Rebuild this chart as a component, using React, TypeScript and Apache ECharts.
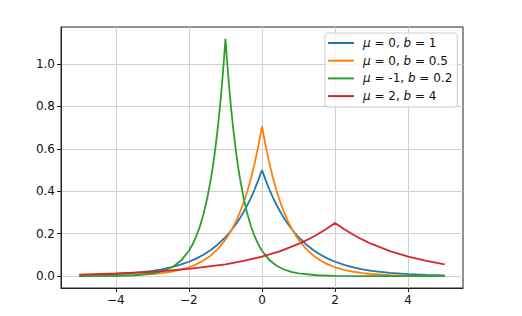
import React, { useEffect, useRef } from "react";
import * as echarts from "echarts";

const seriesNames = ["μ = 0, b = 1", "μ = 0, b = 0.5", "μ = -1, b = 0.2", "μ = 2, b = 4"];
const seriesColors = ["#1f77b4", "#ff7f0e", "#2ca02c", "#d62728"];

const xBlue = [-5, -4.5, -4, -3.5, -3, -2.75, -2.5, -2.25, -2, -1.8, -1.6, -1.4, -1.2, -1, -0.9, -0.8, -0.7, -0.6, -0.5, -0.4, -0.3, -0.2, -0.1, 0,
  0.1, 0.2, 0.3, 0.4, 0.5, 0.6, 0.7, 0.8, 0.9, 1, 1.2, 1.4, 1.6, 1.8, 2, 2.25, 2.5, 2.75, 3, 3.5, 4, 4.5, 5];
const yBlue = [0.00337, 0.00555, 0.00916, 0.0151, 0.0249, 0.032, 0.041, 0.0527, 0.0677, 0.0826, 0.1009, 0.1233, 0.1506, 0.1839, 0.2033, 0.2247, 0.2483, 0.2744, 0.3033, 0.3352, 0.3704, 0.4094, 0.4524, 0.5,
  0.4524, 0.4094, 0.3704, 0.3352, 0.3033, 0.2744, 0.2483, 0.2247, 0.2033, 0.1839, 0.1506, 0.1233, 0.1009, 0.0826, 0.0677, 0.0527, 0.041, 0.032, 0.0249, 0.0151, 0.00916, 0.00555, 0.00337];

const xOrange = [-5, -4.5, -4, -3.5, -3, -2.75, -2.5, -2.25, -2, -1.8, -1.6, -1.4, -1.2, -1, -0.9, -0.8, -0.7, -0.6, -0.5, -0.4, -0.3, -0.2, -0.1, 0,
  0.1, 0.2, 0.3, 0.4, 0.5, 0.6, 0.7, 0.8, 0.9, 1, 1.2, 1.4, 1.6, 1.8, 2, 2.25, 2.5, 2.75, 3, 3.5, 4, 4.5, 5];
const yOrange = [0.0006, 0.00122, 0.00247, 0.00501, 0.01016, 0.01447, 0.0206, 0.0293, 0.0418, 0.0555, 0.0736, 0.0976, 0.1296, 0.1719, 0.198, 0.2281, 0.2628, 0.3027, 0.3487, 0.4016, 0.4626, 0.5329, 0.6139, 0.7071,
  0.6139, 0.5329, 0.4626, 0.4016, 0.3487, 0.3027, 0.2628, 0.2281, 0.198, 0.1719, 0.1296, 0.0976, 0.0736, 0.0555, 0.0418, 0.0293, 0.0206, 0.01447, 0.01016, 0.00501, 0.00247, 0.00122, 0.0006];

const xGreen = [-5, -4.5, -4, -3.5, -3, -2.8, -2.6, -2.4, -2.2, -2, -1.9, -1.8, -1.7, -1.6, -1.5, -1.4, -1.35, -1.3, -1.25, -1.2, -1.15, -1.1, -1.05, -1,
  -0.95, -0.9, -0.85, -0.8, -0.75, -0.7, -0.65, -0.6, -0.5, -0.4, -0.3, -0.2, -0.1, 0, 0.2, 0.4, 0.6, 0.8, 1, 1.5, 2, 3, 4, 5];
const yGreen = [0.000146, 0.000446, 0.00136, 0.00417, 0.01277, 0.02, 0.0312, 0.0489, 0.0764, 0.1195, 0.1494, 0.1869, 0.2337, 0.2923, 0.3655, 0.4571, 0.5112, 0.5716, 0.6392, 0.7149, 0.7994, 0.894, 0.9997, 1.118,
  0.9997, 0.894, 0.7994, 0.7149, 0.6392, 0.5716, 0.5112, 0.4571, 0.3655, 0.2923, 0.2337, 0.1869, 0.1494, 0.1195, 0.0764, 0.0489, 0.0312, 0.02, 0.01277, 0.00417, 0.00136, 0.000146, 0.0000156, 0.0000017];

const xRed = [-5, -4, -3, -2, -1, -0.5, 0, 0.5, 1, 1.25, 1.5, 1.75, 2, 2.25, 2.5, 2.75, 3, 3.5, 4, 4.5, 5];
const yRed = [0.00755, 0.01245, 0.0205, 0.0338, 0.0558, 0.0716, 0.092, 0.1181, 0.1516, 0.1718, 0.1947, 0.2206, 0.25, 0.2206, 0.1947, 0.1718, 0.1516, 0.1181, 0.092, 0.0716, 0.0558];

const xTicks = [-4, -2, 0, 2, 4];
const yTicks = [0, 0.2, 0.4, 0.6, 0.8, 1.0];

const FONT = "DejaVu Sans";

function zip(xs: number[], ys: number[]) {
  return xs.map((x, i) => [x, ys[i]]);
}

export default function App() {
  const ref = useRef<HTMLDivElement>(null);
  useEffect(() => {
    if (!ref.current) return;
    const chart = echarts.init(ref.current, null, { renderer: "svg" });
    const xs = [xBlue, xOrange, xGreen, xRed];
    const ys = [yBlue, yOrange, yGreen, yRed];
    chart.setOption({
      animation: false,
      backgroundColor: "#ffffff",
      grid: {
        left: 61,
        right: 59,
        top: 27,
        bottom: 28,
        show: true,
        borderColor: "#222",
        borderWidth: 1,
        backgroundColor: "transparent",
      },
      legend: {
        orient: "vertical",
        left: 325,
        top: 33,
        icon: "rect",
        itemWidth: 26,
        itemHeight: 2,
        itemGap: 3.7,
        padding: [3, 5, 4, 3],
        backgroundColor: "rgba(255,255,255,0.8)",
        borderColor: "#cccccc",
        borderWidth: 1,
        borderRadius: 3,
        data: seriesNames,
        formatter: (name: string) =>
          name.replace("μ", "{i|μ}").replace("b =", "{i|b} ="),
        textStyle: {
          fontFamily: FONT,
          fontSize: 12,
          color: "#111",
          lineHeight: 14,
          padding: [0, 0, 0, 4],
          rich: {
            i: { fontFamily: FONT, fontSize: 12, fontStyle: "italic", color: "#111", lineHeight: 14 },
          },
        },
      },
      xAxis: {
        type: "value",
        min: -5.5,
        max: 5.5,
        splitNumber: 5,
        axisLine: { onZero: false, lineStyle: { color: "#222", width: 1 } },
        axisTick: { show: true, inside: false, length: 4, customValues: xTicks, lineStyle: { color: "#222" } },
        axisLabel: {
          customValues: xTicks,
          margin: 6,
          fontFamily: FONT,
          fontSize: 12,
          color: "#111",
          formatter: (v: number) => (v < 0 ? "\u2212" + Math.abs(v) : String(v)),
        },
        splitLine: { show: true, lineStyle: { color: "#d0d0d0", width: 1 } },
      },
      yAxis: {
        type: "value",
        min: -0.0559,
        max: 1.1739,
        splitNumber: 6,
        axisLine: { show: true, onZero: false, lineStyle: { color: "#222", width: 1 } },
        axisTick: { show: true, inside: false, length: 4, customValues: yTicks, lineStyle: { color: "#222" } },
        axisLabel: {
          customValues: yTicks,
          margin: 6,
          fontFamily: FONT,
          fontSize: 12,
          color: "#111",
          formatter: (v: number) => v.toFixed(1),
        },
        splitLine: { show: true, lineStyle: { color: "#d0d0d0", width: 1 } },
      },
      series: seriesNames.map((name, i) => ({
        name,
        type: "line",
        data: zip(xs[i], ys[i]),
        showSymbol: false,
        symbol: "none",
        smooth: false,
        lineStyle: { color: seriesColors[i], width: 1.8 },
        itemStyle: { color: seriesColors[i] },
      })),
    });
    return () => chart.dispose();
  }, []);
  return <div ref={ref} style={{ position: "fixed", left: 0, top: 0, width: 522, height: 316 }} />;
}
